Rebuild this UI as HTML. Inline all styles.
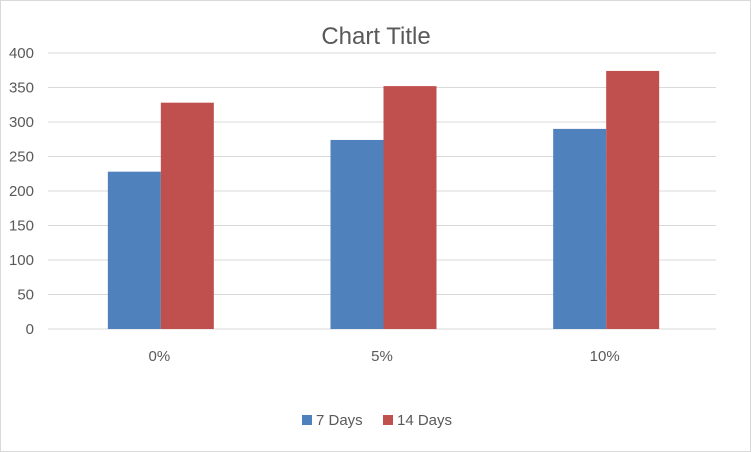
<!DOCTYPE html>
<html><head><meta charset="utf-8"><style>
body{margin:0;background:#fff;}
svg{display:block;font-family:"Liberation Sans",sans-serif;}
</style></head><body>
<svg id="chart" width="751" height="452">
<rect x="0.5" y="0.5" width="750" height="451" fill="#fff" stroke="#d9d9d9"/>
<text x="376" y="44" text-anchor="middle" font-size="24" fill="#595959">Chart Title</text>
<g id="grid"></g><g id="bars"></g><g id="labels"></g>
<g>
<rect x="302" y="415" width="10" height="10" fill="#4f81bd"/>
<text x="316" y="425" font-size="15" fill="#595959">7 Days</text>
<rect x="383" y="415" width="10" height="10" fill="#c0504d"/>
<text x="397" y="425" font-size="15" fill="#595959">14 Days</text>
</g>
</svg>
<script>
const categories=["0%","5%","10%"];
const days7=[228,274,290];
const days14=[328,352,374];
const yTicks=[0,50,100,150,200,250,300,350,400];
const NS="http://www.w3.org/2000/svg";
const left=48,right=716,y0=329,yTop=53,maxV=400;
const y=v=>y0-(v/maxV)*(y0-yTop);
const bw=(right-left)/categories.length;
const cx=i=>left+bw*(i+0.5)+1.5;
const barW=53;
function mk(tag,attrs,parent){const e=document.createElementNS(NS,tag);for(const k in attrs)e.setAttribute(k,attrs[k]);document.getElementById(parent).appendChild(e);return e;}
yTicks.forEach(t=>{
 const l=mk('line',{x1:left,x2:right,y1:y(t),y2:y(t),stroke:'#d9d9d9','stroke-width':1},'grid');
 
 
 const tx=mk('text',{x:34,y:y(t)+5,'text-anchor':'end','font-size':15,fill:'#595959'},'labels');
 tx.textContent=t;
 
 
});
categories.forEach((c,i)=>{
 const b1=mk('rect',{x:cx(i)-barW,y:y(days7[i]),width:barW,height:y0-y(days7[i]),fill:'#4f81bd'},'bars');
 
 
 const b2=mk('rect',{x:cx(i),y:y(days14[i]),width:barW,height:y0-y(days14[i]),fill:'#c0504d'},'bars');
 
 
 const tx=mk('text',{x:cx(i)-1.5,y:361,'text-anchor':'middle','font-size':15,fill:'#595959'},'labels');
 tx.textContent=c;
 
 
});
</script>
</body></html>
